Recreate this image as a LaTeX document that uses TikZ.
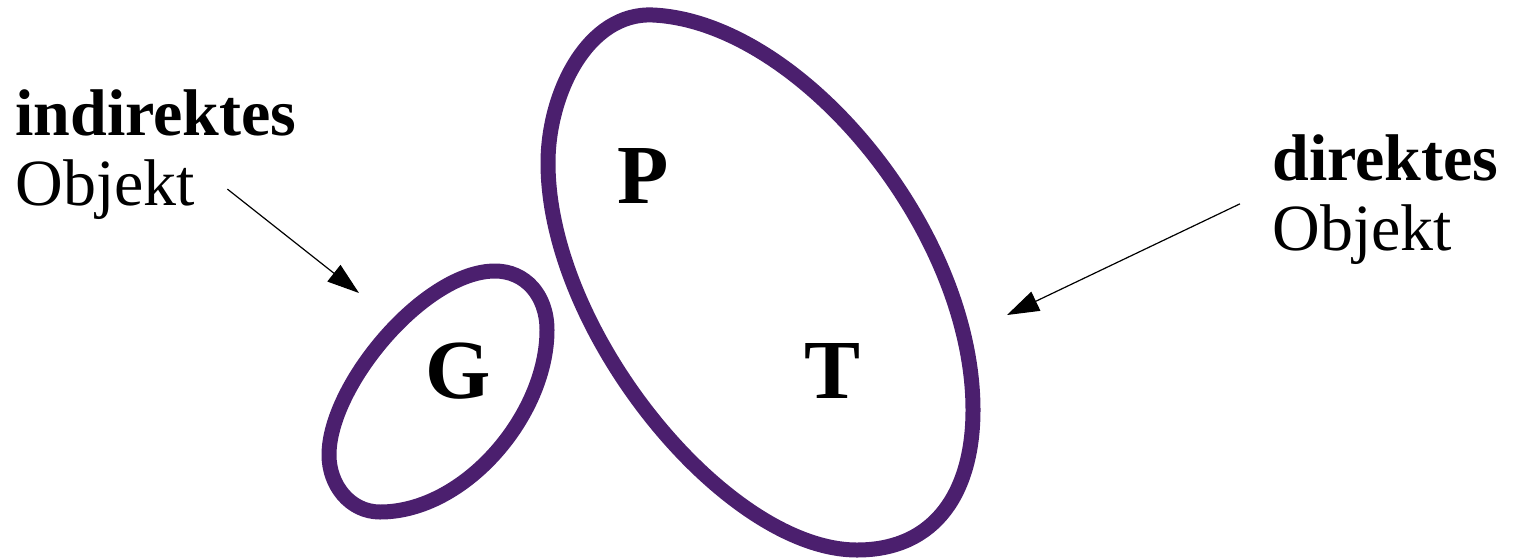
\documentclass[tikz,border=0pt]{standalone}
\usepackage{fontspec}
\setmainfont{Liberation Serif}
\usetikzlibrary{arrows.meta,positioning}
\definecolor{setpurple}{RGB}{75,31,110}
\tikzset{
  blob/.style={draw=setpurple, line width=7.5pt, line join=round},
  letter/.style={inner sep=0pt, font=\fontsize{42}{42}\selectfont\bfseries},
  caption/.style={inner sep=0pt, anchor=base west, font=\fontsize{33}{35}\selectfont},
  pointer/.style={-{Triangle[length=16pt, width=10.5pt]}, line width=0.6pt}
}

\begin{document}
\begin{tikzpicture}[x=0.5pt, y=-0.5pt]
\useasboundingbox (0,0) rectangle (1520,558);
% the two sets
\draw[blob] (653,15) .. controls (800,22) and (973,230) .. (973,410)
  .. controls (973,490) and (937,550) .. (857,550)
  .. controls (727,550) and (548,333) .. (548,163)
  .. controls (548,93) and (588,12) .. cycle;
\draw[blob] (495,271) .. controls (525,271) and (547,295) .. (547,330)
  .. controls (547,415) and (465,512) .. (380,512)
  .. controls (350,512) and (329,485) .. (329,455)
  .. controls (329,385) and (425,271) .. cycle;
\node[letter] (lG) at (458,371) {G};
\node[letter] (lP) at (643,176) {P};
\node[letter] (lT) at (833,371) {T};
% labels
\node[caption, font=\fontsize{33}{35}\selectfont\bfseries] (indL) at (15,135) {indirektes};
\node[caption] (objL) at (15,205) {Objekt};
\node[caption, font=\fontsize{33}{35}\selectfont\bfseries] (dirR) at (1272,180) {direktes};
\node[caption] (objR) at (1272,250) {Objekt};
\coordinate (tipG) at (359,293);
\coordinate (tipPT) at (1007,315);
\draw[pointer] ([xshift=16pt]objL.east) -- (tipG);
\draw[pointer] ([xshift=-16pt]objR.north west) -- (tipPT);
\end{tikzpicture}
\end{document}
